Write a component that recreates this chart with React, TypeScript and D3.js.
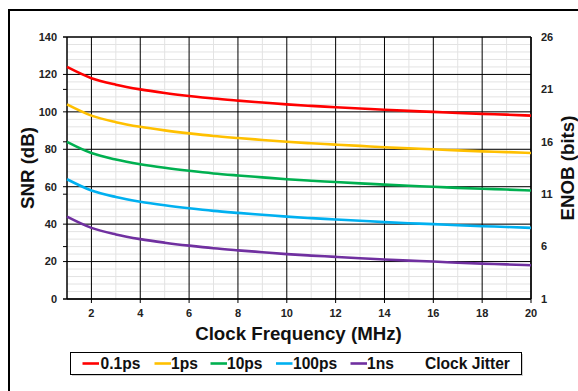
import React from "react";
import * as d3 from "d3";

const freqs = [1, 2, 3, 4, 5, 6, 7, 8, 9, 10, 11, 12, 13, 14, 15, 16, 17, 18, 19, 20];
const snr01ps = [124.0, 118.0, 114.5, 112.0, 110.1, 108.5, 107.1, 106.0, 105.0, 104.0, 103.2, 102.5, 101.8, 101.1, 100.5, 100.0, 99.4, 98.9, 98.5, 98.0];
const snr1ps = [104.0, 98.0, 94.5, 92.0, 90.1, 88.5, 87.1, 86.0, 85.0, 84.0, 83.2, 82.5, 81.8, 81.1, 80.5, 80.0, 79.4, 78.9, 78.5, 78.0];
const snr10ps = [84.0, 78.0, 74.5, 72.0, 70.1, 68.5, 67.1, 66.0, 65.0, 64.0, 63.2, 62.5, 61.8, 61.1, 60.5, 60.0, 59.4, 58.9, 58.5, 58.0];
const snr100ps = [64.0, 58.0, 54.5, 52.0, 50.1, 48.5, 47.1, 46.0, 45.0, 44.0, 43.2, 42.5, 41.8, 41.1, 40.5, 40.0, 39.4, 38.9, 38.5, 38.0];
const snr1ns = [44.0, 38.0, 34.5, 32.0, 30.1, 28.5, 27.1, 26.0, 25.0, 24.0, 23.2, 22.5, 21.8, 21.1, 20.5, 20.0, 19.4, 18.9, 18.5, 18.0];

const seriesNames = ["0.1ps", "1ps", "10ps", "100ps", "1ns"];
const seriesColors = ["#ff0000", "#ffc000", "#00b050", "#00b0f0", "#7030a0"];
const seriesValues = [snr01ps, snr1ps, snr10ps, snr100ps, snr1ns];

const xTicks = [2, 4, 6, 8, 10, 12, 14, 16, 18, 20];
const xMinor = [3, 5, 7, 9, 11, 13, 15, 17, 19];
const yTicks = [0, 20, 40, 60, 80, 100, 120, 140];
const yMinor = d3.range(0, 141, 4);
const enobTicks = [1, 6, 11, 16, 21, 26];

const legendLayout = [
  { lineX: 82.5, textX: 100.5 },
  { lineX: 154.5, textX: 171 },
  { lineX: 210.5, textX: 227 },
  { lineX: 276, textX: 293 },
  { lineX: 350.5, textX: 367 },
];

export default function App() {
  const W = 578, H = 391;
  const L = 67, R = 531, T = 37, B = 299;
  const x = d3.scaleLinear().domain([1, 20]).range([L, R]);
  const y = d3.scaleLinear().domain([0, 140]).range([B, T]);
  const y2 = d3.scaleLinear().domain([1, 26]).range([B, T]);
  const line = d3
    .line<number>()
    .x((_, i) => x(freqs[i]))
    .y((d) => y(d))
    .curve(d3.curveMonotoneX);
  const font = "Arial, 'Liberation Sans', sans-serif";

  return (
    <svg
      width={W}
      height={H}
      style={{ position: "absolute", left: 0, top: 0 }}
      fontFamily={font}
    >
      <rect x={0} y={0} width={W} height={H} fill="#fff" />
      <rect x={9} y={10} width={620} height={420} fill="none" stroke="#000" strokeWidth={2} />
      {yMinor.map((v) => (
        <line key={"ym" + v} x1={L} x2={R} y1={y(v)} y2={y(v)} stroke="#e3e3e3" strokeWidth={1} />
      ))}
      {xMinor.map((v) => (
        <line key={"xm" + v} x1={x(v)} x2={x(v)} y1={T} y2={B} stroke="#e3e3e3" strokeWidth={1} />
      ))}
      {yTicks.map((v) => (
        <line key={"yg" + v} x1={L - 4} x2={R} y1={y(v)} y2={y(v)} stroke="#000" strokeWidth={1} />
      ))}
      {xTicks.map((v) => (
        <line key={"xg" + v} x1={x(v)} x2={x(v)} y1={T} y2={B + 4} stroke="#000" strokeWidth={1} />
      ))}
      {enobTicks.map((v) => (
        <line key={"et" + v} x1={L - 4} x2={L} y1={y2(v)} y2={y2(v)} stroke="#000" strokeWidth={1} />
      ))}
      <line x1={L} x2={L} y1={T} y2={B} stroke="#000" strokeWidth={1.5} />
      <line x1={R} x2={R} y1={T} y2={B} stroke="#000" strokeWidth={1.5} />
      <line x1={L} x2={R} y1={B} y2={B} stroke="#000" strokeWidth={1.5} />
      <line x1={L} x2={R} y1={T} y2={T} stroke="#000" strokeWidth={1} />
      {seriesValues.map((vals, i) => (
        <path key={"s" + i} d={line(vals) || ""} fill="none" stroke={seriesColors[i]} strokeWidth={2.6} />
      ))}
      {yTicks.map((v) => (
        <text key={"yl" + v} x={57} y={y(v)} dy="0.35em" textAnchor="end" fontSize={11} fontWeight="bold" fill="#222">
          {v}
        </text>
      ))}
      {enobTicks.map((v) => (
        <text key={"el" + v} x={541} y={y2(v)} dy="0.35em" textAnchor="start" fontSize={11} fontWeight="bold" fill="#222">
          {v}
        </text>
      ))}
      {xTicks.map((v) => (
        <text key={"xl" + v} x={x(v)} y={313} dy="0.35em" textAnchor="middle" fontSize={11} fontWeight="bold" fill="#222">
          {v}
        </text>
      ))}
      <text
        transform={`translate(27,${(T + B) / 2}) rotate(-90)`}
        textAnchor="middle"
        dy="0.35em"
        fontSize={18.7}
        fontWeight="bold"
        fill="#111"
      >
        SNR (dB)
      </text>
      <text
        transform={`translate(567,${(T + B) / 2}) rotate(-90)`}
        textAnchor="middle"
        dy="0.35em"
        fontSize={18.7}
        fontWeight="bold"
        fill="#111"
      >
        ENOB (bits)
      </text>
      <text x={298.5} y={333} dy="0.35em" textAnchor="middle" fontSize={18.7} fontWeight="bold" fill="#111">
        Clock Frequency (MHz)
      </text>
      <rect x={72} y={354} width={451} height={22} fill="#d0d0d0" />
      <rect x={70.5} y={352.5} width={451} height={22} fill="#fff" stroke="#000" strokeWidth={1} />
      {seriesNames.map((name, i) => (
        <g key={"lg" + i}>
          <line
            x1={legendLayout[i].lineX}
            x2={legendLayout[i].lineX + 16.5}
            y1={363.5}
            y2={363.5}
            stroke={seriesColors[i]}
            strokeWidth={2.6}
          />
          <text x={legendLayout[i].textX} y={363.5} dy="0.35em" fontSize={15.6} fontWeight="bold" fill="#111">
            {name}
          </text>
        </g>
      ))}
      <text x={425} y={363.5} dy="0.35em" fontSize={15.6} fontWeight="bold" fill="#111">
        Clock Jitter
      </text>
    </svg>
  );
}
